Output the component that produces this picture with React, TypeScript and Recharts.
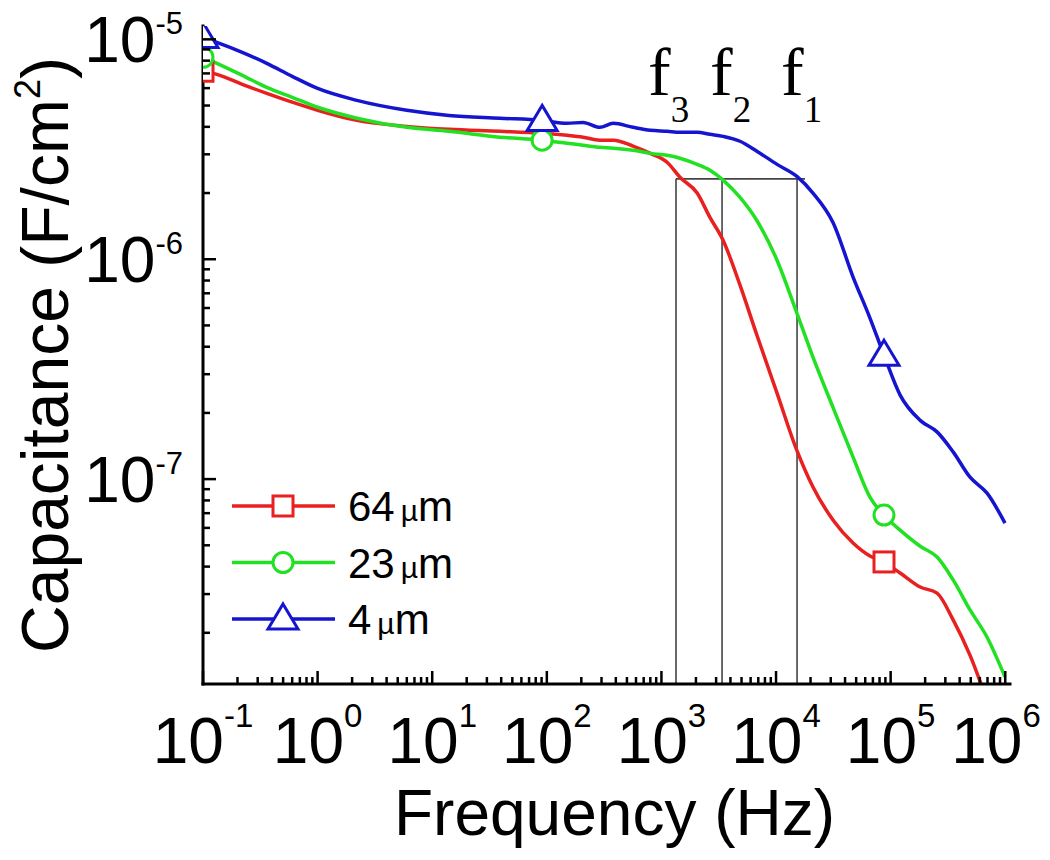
import { LineChart, Line, XAxis, YAxis, ReferenceLine, ReferenceDot, Legend } from "recharts";

// frequency sweep (Hz), shared by all three curves
const freq = [
    0.1, 0.132, 0.22, 0.36, 0.6, 1, 2.2, 6, 14, 39, 91, 150, 207, 290, 380, 565, 800, 1120, 1450, 2050,
    2650, 3450, 4850, 6800, 10200, 15200, 21000, 31400, 47000, 66000, 87500, 121000, 181000, 254000,
    351000, 493000, 694000, 995000,
];

// capacitance (F/cm^2)
const cap64 = [
    7.16e-6, 6.93e-6, 6.24e-6, 5.68e-6, 5.18e-6, 4.76e-6, 4.28e-6, 4.02e-6, 3.9e-6, 3.82e-6, 3.74e-6,
    3.66e-6, 3.59e-6, 3.48e-6, 3.48e-6, 3.27e-6, 3.03e-6, 2.76e-6, 2.36e-6, 2.0e-6, 1.55e-6, 1.22e-6,
    7.62e-7, 4.52e-7, 2.46e-7, 1.35e-7, 9.2e-8, 6.52e-8, 5.12e-8, 4.47e-8, 4.2e-8, 3.74e-8, 3.23e-8,
    3.03e-8, 2.29e-8, 1.58e-8, 9.9e-9, 6.2e-9,
];
const cap23 = [
    8.28e-6, 7.78e-6, 6.86e-6, 6.05e-6, 5.45e-6, 4.91e-6, 4.38e-6, 3.98e-6, 3.82e-6, 3.59e-6, 3.48e-6,
    3.37e-6, 3.3e-6, 3.23e-6, 3.2e-6, 3.13e-6, 3.03e-6, 2.97e-6, 2.88e-6, 2.7e-6, 2.54e-6, 2.29e-6,
    1.91e-6, 1.5e-6, 9.9e-7, 5.69e-7, 3.59e-7, 2.12e-7, 1.26e-7, 8.28e-8, 6.86e-8, 5.86e-8, 4.95e-8,
    4.42e-8, 3.48e-8, 2.54e-8, 1.91e-8, 1.26e-8,
];
const cap4 = [
    1.02e-5, 9.69e-6, 8.73e-6, 7.78e-6, 6.79e-6, 5.98e-6, 5.28e-6, 4.76e-6, 4.51e-6, 4.38e-6, 4.28e-6,
    4.15e-6, 4.19e-6, 3.98e-6, 4.15e-6, 3.98e-6, 3.86e-6, 3.82e-6, 3.78e-6, 3.78e-6, 3.7e-6, 3.62e-6,
    3.44e-6, 3.1e-6, 2.7e-6, 2.38e-6, 2.0e-6, 1.47e-6, 8.3e-7, 5.4e-7, 3.66e-7, 2.41e-7, 1.85e-7,
    1.64e-7, 1.33e-7, 1.02e-7, 8.63e-8, 6.31e-8,
];

// where the hollow symbols sit on each curve
const marks64 = [0.1, 87500];
const marks23 = [0.1, 91, 87500];
const marks4 = [0.1, 91, 87500];

// characteristic frequencies f3, f2, f1 and the level they are read at
const fFreqs = [1340, 3380, 15250];
const fSubs = ["3", "2", "1"];
const fLevel = 2.32e-6;
const fLineEnd = 17900;
const fLabelLevel = 5.56e-6;

// axis ticks
const xExps = [-1, 0, 1, 2, 3, 4, 5, 6];
const yExps = [-8, -7, -6, -5];
const minorSteps = [2, 3, 4, 5, 6, 7, 8, 9];

const X_DOMAIN = [0.1, 1.1e6];
const Y_DOMAIN = [1.17e-8, 1.15e-5];

const buildTicks = (exps: number[], dom: number[]) => {
    const out: number[] = [];
    exps.forEach((e) => {
        const d = Math.pow(10, e);
        out.push(d);
        minorSteps.forEach((m) => out.push(m * d));
    });
    return out.filter((t) => t >= dom[0] * 0.999 && t <= dom[1] * 1.001);
};
const xTicks = buildTicks(xExps, X_DOMAIN);
const yTicks = buildTicks(yExps, Y_DOMAIN);

const rows = freq.map((f, i) => ({ f, c64: cap64[i], c23: cap23[i], c4: cap4[i] }));

const RED = "#e8201f";
const GREEN = "#22e022";
const BLUE = "#1515d0";
const FONT = "'Liberation Sans', Arial, sans-serif";

const seriesStyle: Record<string, { shape: string; color: string }> = {
    c64: { shape: "square", color: RED },
    c23: { shape: "circle", color: GREEN },
    c4: { shape: "triangle", color: BLUE },
};
const legendOrder = ["c64", "c23", "c4"];

const exponentOf = (v: number) => {
    const p = Math.log10(v);
    const e = Math.round(p);
    return Math.abs(p - e) < 1e-6 ? e : null;
};

const Marker = ({ shape, cx, cy, color }: any) => {
    if (shape === "square")
        return <rect x={cx - 10} y={cy - 10} width={20} height={20} fill="#fff" stroke={color} strokeWidth={3} />;
    if (shape === "circle") return <circle cx={cx} cy={cy} r={10} fill="#fff" stroke={color} strokeWidth={3} />;
    return (
        <polygon
            points={`${cx},${cy - 15} ${cx + 15},${cy + 10} ${cx - 15},${cy + 10}`}
            fill="#fff"
            stroke={color}
            strokeWidth={3}
        />
    );
};

const makeDot = (key: string, marks: number[]) => (p: any) => {
    const { cx, cy, payload, index } = p;
    if (cx == null || cy == null || !marks.includes(payload.f)) return <g key={`${key}-${index}`} />;
    const s = seriesStyle[key];
    return <Marker key={`${key}-${index}`} shape={s.shape} color={s.color} cx={cx} cy={cy} />;
};

const XTick = ({ x, y, payload }: any) => {
    const e = exponentOf(payload.value);
    // keep the last label inside the picture, as the original does
    const tx = Math.min(x, 988);
    return (
        <g>
            <line x1={x} x2={x} y1={y} y2={y - (e !== null ? 13 : 7)} stroke="#000" strokeWidth={2.5} />
            {e !== null && (
                <text x={tx} y={y + 79} textAnchor="middle" fontSize={64} fill="#000" fontFamily={FONT}>
                    10
                    <tspan dy={-36} fontSize={33}>
                        {String(e)}
                    </tspan>
                </text>
            )}
        </g>
    );
};

const YTick = ({ x, y, payload }: any) => {
    const e = exponentOf(payload.value);
    return (
        <g>
            <line x1={x} x2={x + (e !== null ? 13 : 7)} y1={y} y2={y} stroke="#000" strokeWidth={2.5} />
            {e !== null && (
                <text x={x - 20} y={y + 23} textAnchor="end" fontSize={64} fill="#000" fontFamily={FONT}>
                    10
                    <tspan dy={-28} fontSize={31}>
                        {String(e)}
                    </tspan>
                </text>
            )}
        </g>
    );
};

const XTitle = ({ viewBox }: any) => (
    <text
        x={viewBox.x + viewBox.width / 2 + 8}
        y={viewBox.y + 151}
        textAnchor="middle"
        fontSize={64}
        fill="#000"
        fontFamily={FONT}
    >
        Frequency (Hz)
    </text>
);

const YTitle = ({ viewBox }: any) => {
    const cx = 60;
    const cy = viewBox.y + viewBox.height / 2;
    return (
        <text
            x={cx}
            y={cy}
            transform={`rotate(-90, ${cx}, ${cy})`}
            textAnchor="middle"
            fontSize={66}
            fill="#000"
            fontFamily={FONT}
        >
            Capacitance (F/cm
            <tspan dy={-28} fontSize={36}>
                2
            </tspan>
            <tspan dy={28}>)</tspan>
        </text>
    );
};

const fLabelDx = [-28, -12, -16];

const makeFLabel = (i: number) => (p: any) => {
    const vb = p.viewBox;
    return (
        <text
            x={vb.x + fLabelDx[i]}
            y={vb.y}
            fontSize={68}
            fill="#000"
            fontFamily="'Liberation Serif', 'Times New Roman', serif"
        >
            f
            <tspan dy={27} fontSize={37}>
                {fSubs[i]}
            </tspan>
        </text>
    );
};

const LegendBox = ({ payload }: any) => {
    const items = [...(payload || [])].sort(
        (a: any, b: any) => legendOrder.indexOf(a.dataKey) - legendOrder.indexOf(b.dataKey)
    );
    return (
        <svg width={300} height={170} style={{ display: "block", overflow: "visible" }}>
            {items.map((e: any, i: number) => {
                const cy = 28 + i * 56.5;
                const s = seriesStyle[e.dataKey];
                const [num] = String(e.value).split(" ");
                return (
                    <g key={e.dataKey}>
                        <line x1={10} x2={113} y1={cy} y2={cy} stroke={s.color} strokeWidth={3.5} />
                        <Marker shape={s.shape} cx={61} cy={cy} color={s.color} />
                        <text x={126} y={cy + 15} fontSize={42} fill="#000" fontFamily={FONT}>
                            {num}
                            <tspan fontSize={30} dx={6}>
                                µ
                            </tspan>
                            <tspan>m</tspan>
                        </text>
                    </g>
                );
            })}
        </svg>
    );
};

export default function App() {
    return (
        <div style={{ width: 1034, height: 850, marginTop: -6, background: "#fff" }}>
            <LineChart
                width={1034}
                height={850}
                data={rows}
                margin={{ top: 24, right: 32, bottom: 0, left: 0 }}
                style={{ fontFamily: FONT, overflow: "visible" }}
            >
                <XAxis
                    dataKey="f"
                    type="number"
                    scale="log"
                    domain={X_DOMAIN}
                    allowDataOverflow
                    ticks={xTicks}
                    interval={0}
                    tickSize={0}
                    tickMargin={0}
                    tickLine={false}
                    tick={<XTick />}
                    axisLine={{ stroke: "#000", strokeWidth: 3, strokeLinecap: "square" }}
                    height={168}
                    label={<XTitle />}
                />
                <YAxis
                    type="number"
                    scale="log"
                    domain={Y_DOMAIN}
                    allowDataOverflow
                    ticks={yTicks}
                    interval={0}
                    tickSize={0}
                    tickMargin={0}
                    tickLine={false}
                    tick={<YTick />}
                    axisLine={{ stroke: "#000", strokeWidth: 3, strokeLinecap: "square" }}
                    width={195}
                    label={<YTitle />}
                />

                {fFreqs.map((f, i) => (
                    <ReferenceLine
                        key={`v${i}`}
                        segment={[
                            { x: f, y: Y_DOMAIN[0] },
                            { x: f, y: fLevel },
                        ]}
                        stroke="#444"
                        strokeWidth={1.6}
                        ifOverflow="visible"
                    />
                ))}
                <ReferenceLine
                    segment={[
                        { x: fFreqs[0], y: fLevel },
                        { x: fLineEnd, y: fLevel },
                    ]}
                    stroke="#444"
                    strokeWidth={1.6}
                    ifOverflow="visible"
                />
                {fFreqs.map((f, i) => (
                    <ReferenceDot
                        key={`l${i}`}
                        x={f}
                        y={fLabelLevel}
                        r={0}
                        fill="none"
                        stroke="none"
                        ifOverflow="visible"
                        label={makeFLabel(i)}
                    />
                ))}

                <Line
                    dataKey="c64"
                    name="64 µm"
                    type="monotone"
                    stroke={RED}
                    strokeWidth={3.5}
                    dot={makeDot("c64", marks64)}
                    activeDot={false}
                    isAnimationActive={false}
                />
                <Line
                    dataKey="c23"
                    name="23 µm"
                    type="monotone"
                    stroke={GREEN}
                    strokeWidth={3.5}
                    dot={makeDot("c23", marks23)}
                    activeDot={false}
                    isAnimationActive={false}
                />
                <Line
                    dataKey="c4"
                    name="4 µm"
                    type="monotone"
                    stroke={BLUE}
                    strokeWidth={3.5}
                    dot={makeDot("c4", marks4)}
                    activeDot={false}
                    isAnimationActive={false}
                />

                <Legend
                    layout="vertical"
                    align="center"
                    verticalAlign="middle"
                    content={<LegendBox />}
                    wrapperStyle={{ left: 214, top: 476, width: 300, height: 170 }}
                />
            </LineChart>
        </div>
    );
}
